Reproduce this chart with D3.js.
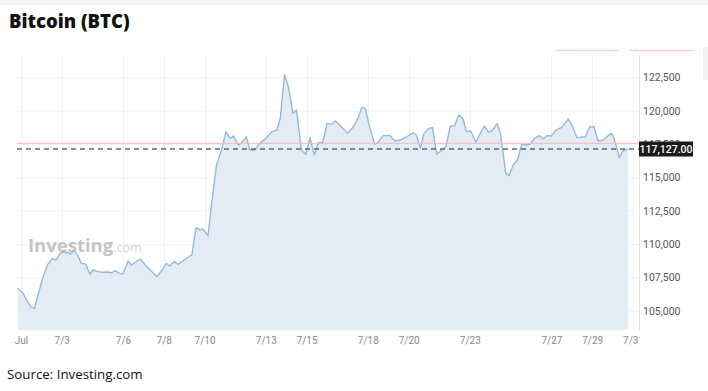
<!DOCTYPE html>
<html>
<head>
<meta charset="utf-8">
<script src="https://cdn.jsdelivr.net/npm/d3@7"></script>
<style>
  body { margin: 0; background: #fff; }
  svg { display: block; }
</style>
</head>
<body>
<svg id="chart" width="708" height="391"></svg>
<script>
// hours since Jul 1 00:00 and BTC price
const hours = [-4, 2, 7, 12, 16, 20, 26, 31, 37, 41, 46, 50, 55, 58, 62, 66, 71, 76, 81, 85,
  91, 96, 101, 107, 111, 116, 120, 126, 130, 140, 148, 160, 166, 171, 175, 180, 185, 195, 201, 206,
  211, 214, 220, 224, 230, 236, 241, 246, 250, 256, 260, 265, 269, 275, 281, 289, 295, 301, 305, 310,
  314, 320, 324, 330, 335, 340, 345, 350, 355, 360, 365, 370, 377, 384, 391, 396, 401, 405, 410, 416,
  420, 426, 434, 440, 446, 454, 461, 465, 470, 474, 479, 484, 489, 495, 500, 505, 510, 515, 520, 524,
  529, 535, 540, 545, 550, 555, 560, 564, 568, 570, 574, 579, 584, 589, 595, 599, 605, 610, 614, 619,
  624, 629, 636, 644, 649, 654, 664, 669, 674, 679, 685, 694, 697, 704, 708, 714];
const prices = [106680, 106350, 105750, 105250, 105180, 106180, 107550, 108430, 108930, 108800,
  109300, 109400, 109350, 109250, 109500, 109250, 108550, 108500, 107730, 108050,
  107930, 107880, 107900, 107850, 108000, 107800, 107750, 108730, 108430, 108880,
  108300, 107550, 108050, 108550, 108350, 108680, 108480, 108950, 109180, 111230,
  111050, 111130, 110630, 112930, 115930, 117050, 118430, 117930, 118100, 117430,
  117630, 118050, 117050, 117050, 117550, 117980, 118430, 118550, 119430, 122680,
  121930, 119800, 120050, 117050, 116730, 117980, 116680, 117600, 117600, 119050,
  118980, 119230, 118800, 118300, 118800, 119380, 120250, 120180, 118800, 117480,
  117630, 118130, 118130, 117730, 117800, 118050, 118350, 118180, 117180, 118300,
  118630, 118750, 116730, 117050, 117300, 118850, 118880, 119680, 119380, 118430,
  118480, 117630, 118250, 118850, 118380, 118550, 119050, 118300, 116430, 115350,
  115130, 115930, 116300, 117480, 117430, 117500, 117980, 118130, 117880, 118130,
  118100, 118550, 118750, 119380, 118800, 117980, 118050, 118800, 118800, 117730,
  117800, 118300, 118050, 116480, 116980, 117127];

const xTickHours = [0, 48, 120, 168, 216, 288, 336, 408, 456, 528, 624, 672, 720];
const xTickLabels = ["Jul", "7/3", "7/6", "7/8", "7/10", "7/13", "7/15", "7/18", "7/20", "7/23", "7/27", "7/29", "7/31"];
const yTicks = [105000, 107500, 110000, 112500, 115000, 117500, 120000, 122500];
const lastPrice = 117127;
const alertLevel = 117555;

const data = hours.map((h, i) => ({ h: h, v: prices[i] }));

const svg = d3.select("#chart");
const plotLeft = 17, plotRight = 639, plotTop = 55, plotBottom = 330;

const x = d3.scaleLinear().domain([-4.7, 727]).range([plotLeft, plotRight]);
const y = d3.scaleLinear().domain([103550, 124180]).range([plotBottom, plotTop]);

// light grey strips of the screenshot frame
svg.append("rect").attr("x", 0).attr("y", 0).attr("width", 708).attr("height", 5).attr("fill", "#f4f4f4");
svg.append("rect").attr("x", 703).attr("y", 47).attr("width", 5).attr("height", 33).attr("fill", "#f2f2f2");

// title
svg.append("text")
  .attr("x", 9).attr("y", 28)
  .style("font-family", "'Open Sans', sans-serif")
  .style("font-weight", "800")
  .style("font-size", "18.5px")
  .attr("fill", "#111")
  .text("Bitcoin (BTC)");

// faded legend strokes in the top right
svg.append("line").attr("x1", 555).attr("x2", 618).attr("y1", 50.5).attr("y2", 50.5)
  .attr("stroke", "#cfe8d3").attr("stroke-width", 1.5);
svg.append("line").attr("x1", 630).attr("x2", 695).attr("y1", 50.5).attr("y2", 50.5)
  .attr("stroke", "#f6d0d0").attr("stroke-width", 1.5);

// gridlines
svg.append("g").selectAll("line").data(yTicks).enter().append("line")
  .attr("x1", plotLeft).attr("x2", plotRight)
  .attr("y1", d => y(d) + 0.5).attr("y2", d => y(d) + 0.5)
  .attr("stroke", "#f1f1f1");
svg.append("g").selectAll("line").data(xTickHours).enter().append("line")
  .attr("x1", d => Math.round(x(d)) + 0.5).attr("x2", d => Math.round(x(d)) + 0.5)
  .attr("y1", plotTop).attr("y2", plotBottom)
  .attr("stroke", "#f1f1f1");

// area + line
const area = d3.area().x(d => x(d.h)).y0(plotBottom).y1(d => y(d.v));
const line = d3.line().x(d => x(d.h)).y(d => y(d.v));

svg.append("path").datum(data).attr("d", area).attr("fill", "#e3ecf4");

// watermark
const wm = svg.append("text").attr("x", 28).attr("y", 252)
  .style("font-family", "'Open Sans', sans-serif").attr("fill", "#c4c4c4");
wm.append("tspan").style("font-weight", "700").style("font-size", "18.5px").text("Investing");
wm.append("tspan").style("font-size", "12.5px").attr("fill", "#d2d2d2").text(".com");

svg.append("path").datum(data).attr("d", line)
  .attr("fill", "none").attr("stroke", "#93bad9").attr("stroke-width", 1.4)
  .attr("stroke-linejoin", "round");

// red reference and dashed last price lines
svg.append("line").attr("x1", plotLeft).attr("x2", plotRight)
  .attr("y1", y(alertLevel)).attr("y2", y(alertLevel))
  .attr("stroke", "#f5b8b8").attr("stroke-width", 1);
svg.append("line").attr("x1", plotLeft).attr("x2", plotRight)
  .attr("y1", y(lastPrice)).attr("y2", y(lastPrice))
  .attr("stroke", "#5d6470").attr("stroke-width", 1.3).attr("stroke-dasharray", "5,4");

// right axis
const yAxis = svg.append("g").attr("transform", "translate(" + plotRight + ",0)")
  .call(d3.axisRight(y).tickValues(yTicks).tickFormat(d3.format(",")).tickSize(0).tickPadding(4));
yAxis.select(".domain").attr("stroke", "#e2e2e2").attr("d", "M0.5," + plotTop + "V" + plotBottom);
yAxis.selectAll("text")
  .style("font-family", "Roboto, sans-serif").style("font-size", "10.5px").attr("fill", "#555");

// bottom axis
const xAxis = svg.append("g").attr("transform", "translate(0," + plotBottom + ")")
  .call(d3.axisBottom(x).tickValues(xTickHours).tickFormat((d, i) => xTickLabels[i]).tickSize(0).tickPadding(7));
xAxis.select(".domain").remove();
xAxis.selectAll("text")
  .style("font-family", "Roboto, sans-serif").style("font-size", "10px").attr("fill", "#888");
svg.append("defs").append("clipPath").attr("id", "xclip")
  .append("rect").attr("x", 0).attr("y", 0).attr("width", 640).attr("height", 30);
xAxis.attr("clip-path", "url(#xclip)");

// last price tag (sits over the 117,500 label, as in the source chart)
const tag = svg.append("g").attr("transform", "translate(" + plotRight + "," + y(lastPrice) + ")");
tag.append("rect").attr("x", 0).attr("y", -7.5).attr("width", 54).attr("height", 15).attr("fill", "#1b1b1b");
tag.append("text").attr("x", 27).attr("y", 0).attr("dy", "0.35em").attr("text-anchor", "middle")
  .style("font-family", "Roboto, sans-serif").style("font-size", "10.5px").style("font-weight", "500")
  .attr("fill", "#fff").text(d3.format(",.2f")(lastPrice));

// source note
svg.append("text").attr("x", 7).attr("y", 379)
  .style("font-family", "'Open Sans', sans-serif").style("font-size", "13.3px")
  .attr("fill", "#111")
  .text("Source: Investing.com");
</script>
</body>
</html>
